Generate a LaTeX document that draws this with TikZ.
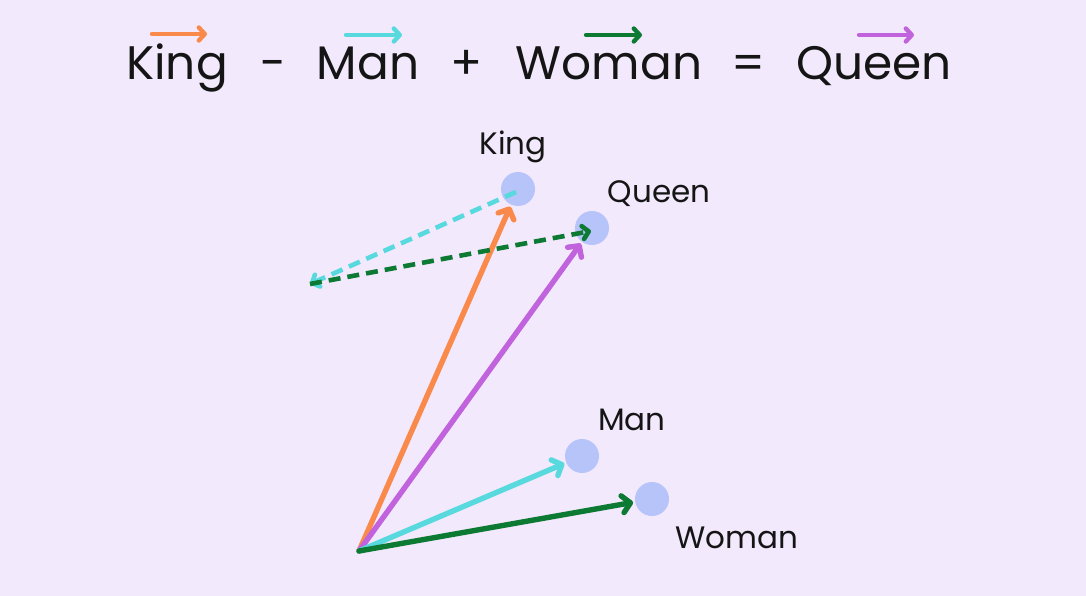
\documentclass[tikz,border=0pt]{standalone}
\usepackage{fontspec}
\setmainfont{Poppins}
\usetikzlibrary{arrows.meta}
\definecolor{bgc}{HTML}{F3E9FD}
\definecolor{corange}{HTML}{F98A4B}
\definecolor{ccyan}{HTML}{57D9DD}
\definecolor{cgreen}{HTML}{0D7A33}
\definecolor{cpurple}{HTML}{C063DD}
\definecolor{cdot}{HTML}{B6C4F9}
\definecolor{ctext}{HTML}{151515}
\tikzset{
  tip/.tip={Straight Barb[length=8pt,width=17pt,line cap=round,line join=round]},
  smalltip/.tip={Straight Barb[length=6pt,width=13pt,line cap=round,line join=round]},
  title/.style={anchor=base,inner sep=0pt,text=ctext,font=\fontsize{47}{50}\selectfont},
  label/.style={anchor=base,inner sep=0pt,text=ctext,font=\fontsize{31}{34}\selectfont},
  dot/.style={circle,fill=cdot,draw=none,minimum size=34pt,inner sep=0pt},
  vec/.style={line width=5.4pt,line cap=round,-tip,shorten >=2pt},
  dvec/.style={line width=4.6pt,dash pattern=on 12pt off 7pt,-smalltip},
  hvec/.style={line width=4.4pt,line cap=round,-smalltip},
}
\begin{document}
\begin{tikzpicture}[x=1pt,y=-1pt]
\fill[bgc] (0,0) rectangle (1086,596);
\useasboundingbox (0,0) rectangle (1086,596);
% title
\node[title] (tK) at (177,80) {King};
\node[title] (tm) at (273,80) {-};
\node[title] (tM) at (368,80) {Man};
\node[title] (tp) at (467,80) {+};
\node[title] (tW) at (609,80) {Woman};
\node[title] (te) at (748,80) {=};
\node[title] (tQ) at (874,80) {Queen};
\coordinate (a1) at (152,34); \coordinate (b1) at (207,34);
\coordinate (a2) at (346,35); \coordinate (b2) at (402,35);
\coordinate (a3) at (586,35); \coordinate (b3) at (642,35);
\coordinate (a4) at (859,35); \coordinate (b4) at (914,35);
\draw[hvec,corange] (a1) -- (b1);
\draw[hvec,ccyan] (a2) -- (b2);
\draw[hvec,cgreen] (a3) -- (b3);
\draw[hvec,cpurple] (a4) -- (b4);
% points
\node[dot] (K) at (518,189) {};
\node[dot] (Q) at (592,228) {};
\node[dot] (M) at (582,456) {};
\node[dot] (W) at (652,499) {};
\node[label] (lK) at (513,155) {King};
\node[label] (lQ) at (659,202) {Queen};
\node[label] (lM) at (632,430) {Man};
\node[label] (lW) at (737,548) {Woman};
\coordinate (O) at (359,551);
\coordinate (P) at (310,284);
\coordinate (Ks) at (516,192);
\coordinate (Qe) at (591,231);
% vectors
\draw[vec,corange] (O) -- (K);
\draw[vec,cpurple] (O) -- (Q);
\draw[vec,ccyan] (O) -- (M);
\draw[vec,cgreen] (O) -- (W);
\draw[dvec,ccyan] (Ks) -- (P);
\draw[dvec,cgreen] (P) -- (Qe);
\end{tikzpicture}
\end{document}
